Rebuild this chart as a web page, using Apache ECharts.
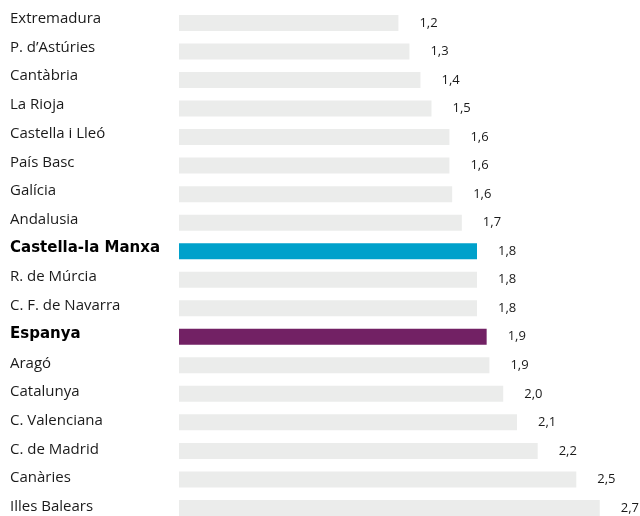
<!DOCTYPE html>
<html>
<head>
<meta charset="utf-8">
<script src="https://cdn.jsdelivr.net/npm/echarts@6/dist/echarts.min.js"></script>
<style>html,body{margin:0;padding:0;background:#fff;}#c{width:640px;height:516px;}</style>
</head>
<body>
<div id="c"></div>
<script>
const categories = ['Extremadura','P. d\u2019Astúries','Cantàbria','La Rioja','Castella i Lleó','País Basc','Galícia','Andalusia','Castella-la Manxa','R. de Múrcia','C. F. de Navarra','Espanya','Aragó','Catalunya','C. Valenciana','C. de Madrid','Canàries','Illes Balears'];
const values = [1.23,1.31,1.39,1.47,1.60,1.60,1.62,1.69,1.80,1.80,1.80,1.87,1.89,1.99,2.09,2.24,2.52,2.69];
const highlighted = {'Castella-la Manxa':'#00A1CB','Espanya':'#722164'};
const baseColor = '#EBECEB';

const chart = echarts.init(document.getElementById('c'), null, {renderer:'canvas'});
const font = '"Open Sans", "Noto Sans", sans-serif';
const txt = '#1a1a1a';
chart.setOption({
  animation:false,
  grid:[
    {left:179, right:0, top:8.7, height:513.5, outerBoundsMode:'none', containLabel:false},
    {left:179, right:0, top:4.3, height:517, outerBoundsMode:'none', containLabel:false}
  ],
  xAxis:[
    {type:'value', gridIndex:0, min:-0.361, max:2.982, startValue:-0.361, show:false},
    {type:'value', gridIndex:1, min:0, max:1, show:false}
  ],
  yAxis:[
    {type:'category', gridIndex:0, inverse:true, data:categories, show:false},
    {type:'category', gridIndex:1, inverse:true, data:categories,
     axisLine:{show:false}, axisTick:{show:false}, splitLine:{show:false},
     axisLabel:{margin:0, formatter:v => highlighted[v] ? '{b|'+v+'}' : '{n|'+v+'}',
       rich:{
         n:{width:169, align:'left', color:txt, fontSize:15, fontFamily:font},
         b:{width:169, align:'left', color:'#000', fontSize:15, fontWeight:'bold', fontFamily:'"DejaVu Sans", sans-serif'}
       }}}
  ],
  series:[{
    type:'bar', xAxisIndex:0, yAxisIndex:0,
    barWidth:16,
    data:values.map((v,i)=>({value:v, itemStyle:{color: highlighted[categories[i]]||baseColor}})),
    label:{show:true, position:'right', distance:21, color:txt, fontSize:13, fontFamily:font,
      formatter:p=>p.value.toFixed(1).replace('.',',')},
    silent:true
  }]
});
</script>
</body>
</html>
